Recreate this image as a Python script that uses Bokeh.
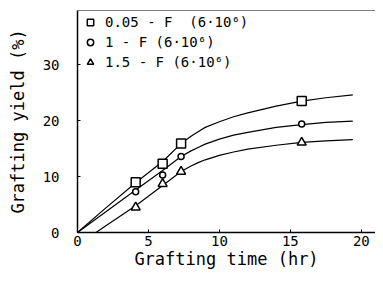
from bokeh.plotting import figure
from bokeh.models import FixedTicker, Span, Legend, LegendItem, Range1d
from bokeh.embed import file_html
from bokeh.resources import INLINE

# measured points
time_pts = [4.1, 6.0, 7.3, 15.8]
yield_005 = [9.0, 12.3, 15.9, 23.5]
yield_1 = [7.3, 10.3, 13.6, 19.4]
yield_15 = [4.5, 8.7, 10.9, 16.1]

# fitted curves
curve_x = [0, 2, 4.1, 6.0, 7.3, 8.0, 8.5, 9, 10, 11, 12, 14, 15.8, 17.5, 19.4]
curve_005 = [0, 4.4, 8.9, 12.7, 15.9, 17.2, 18.0, 18.8, 19.8, 20.7, 21.4, 22.6, 23.5, 24.1, 24.6]
curve_1 = [0, 3.7, 7.6, 11.1, 13.6, 14.6, 15.2, 15.8, 16.7, 17.4, 17.9, 18.8, 19.3, 19.7, 19.9]
curve_x15 = [1.3, 2, 4.1, 6.0, 7.3, 8.0, 8.5, 9, 10, 11, 12, 14, 15.8, 17.5, 19.4]
curve_15 = [0, 1.2, 4.8, 8.4, 10.9, 11.9, 12.5, 13.0, 13.8, 14.4, 14.9, 15.6, 16.1, 16.4, 16.6]

x_ticks = [0, 5, 10, 15, 20]
y_ticks = [0, 10, 20, 30]
labels = ["0.05 - F  (6\u00b710\u2076)", "1 - F (6\u00b710\u2076)", "1.5 - F (6\u00b710\u2076)"]

FONT = "DejaVu Sans Mono"

p = figure(width=375, height=271, output_backend="svg", toolbar_location=None,
           x_range=Range1d(0, 21.0), y_range=Range1d(0, 39.7),
           min_border_left=77, min_border_right=0, min_border_top=10, min_border_bottom=36)
p.outline_line_color = None
p.grid.visible = False
p.background_fill_color = "white"
p.border_fill_color = "white"

p.add_layout(Span(location=39.7, dimension="width", line_color="black", line_width=1))

p.line(curve_x, curve_005, line_color="black", line_width=1.2)
p.line(curve_x, curve_1, line_color="black", line_width=1.2)
p.line(curve_x15, curve_15, line_color="black", line_width=1.2)

r1 = p.scatter(time_pts, yield_005, marker="square", size=9, fill_color="white",
               line_color="black", line_width=1.5)
r2 = p.scatter(time_pts, yield_1, marker="circle", size=6, fill_color="white",
               line_color="black", line_width=1.5)
r3 = p.scatter(time_pts, yield_15, marker="triangle", size=9, fill_color="white",
               line_color="black", line_width=1.5)

legend = Legend(items=[LegendItem(label=labels[0], renderers=[r1]),
                       LegendItem(label=labels[1], renderers=[r2]),
                       LegendItem(label=labels[2], renderers=[r3])],
                location="top_left")
legend.border_line_color = None
legend.background_fill_alpha = 0
legend.margin = 2
legend.padding = 0
legend.spacing = 0
legend.glyph_width = 22
legend.glyph_height = 16
legend.label_height = 20
legend.label_standoff = 4
legend.label_text_font = FONT
legend.label_text_font_size = "14px"
legend.label_text_color = "black"
p.add_layout(legend)

for ax in (p.xaxis, p.yaxis):
    ax.axis_line_color = "black"
    ax.axis_line_width = 1.5
    ax.major_tick_in = 3
    ax.major_tick_out = 0
    ax.minor_tick_line_color = None
    ax.major_label_text_font = FONT
    ax.major_label_text_font_size = "14px"
    ax.major_label_text_color = "black"
    ax.axis_label_text_font = FONT
    ax.axis_label_text_font_size = "17px"
    ax.axis_label_text_font_style = "normal"
    ax.axis_label_text_color = "black"

p.xaxis.ticker = FixedTicker(ticks=x_ticks)
p.yaxis.ticker = FixedTicker(ticks=y_ticks)
p.xaxis.axis_label = "Grafting time (hr)"
p.yaxis.axis_label = "Grafting yield (%)"
p.xaxis.major_label_standoff = 3
p.xaxis.axis_label_standoff = 0
p.yaxis.major_label_standoff = 18
p.yaxis.axis_label_standoff = 12

open("out.html", "w").write(file_html(p, INLINE))
